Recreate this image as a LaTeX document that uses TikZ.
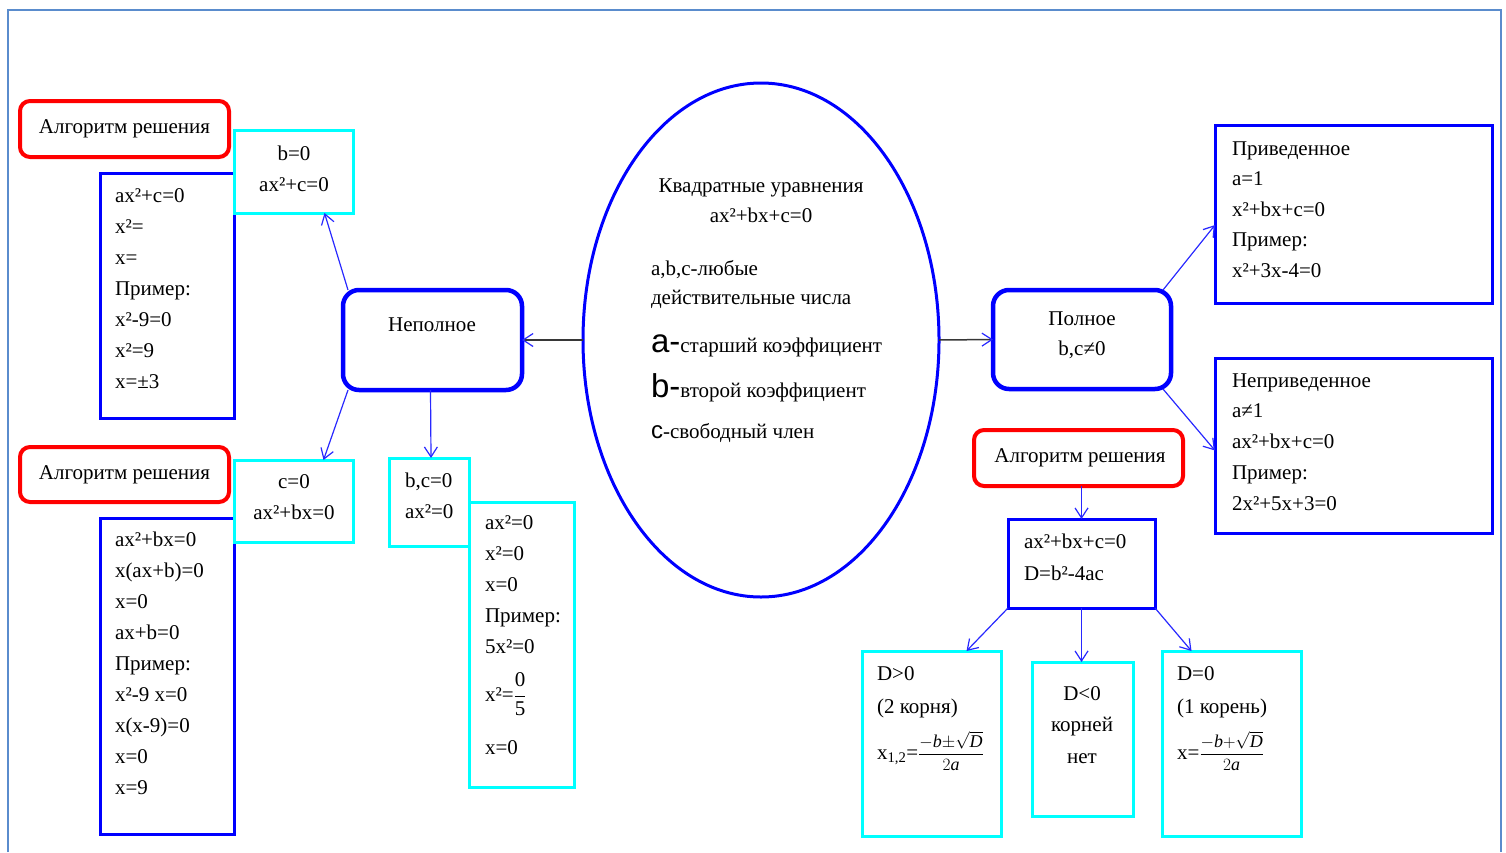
\documentclass[tikz,border=0pt]{standalone}
\usepackage{fontspec}
\setmainfont{Liberation Serif}
\newfontfamily\sansf{Liberation Sans}
\usetikzlibrary{arrows.meta,shapes.geometric}
\definecolor{frameblue}{RGB}{90,140,205}
\definecolor{pblue}{RGB}{0,0,255}
\definecolor{pcyan}{RGB}{0,255,255}
\definecolor{pred}{RGB}{255,0,0}
\definecolor{linegray}{RGB}{55,55,55}
\definecolor{arrowblue}{RGB}{40,40,255}
\begin{document}
\begin{tikzpicture}[x=1pt,y=-1pt,
  box/.style={draw, rectangle, inner sep=0pt, outer sep=0pt},
  bluebox/.style={box, draw=pblue, line width=3pt},
  cyanbox/.style={box, draw=pcyan, line width=3pt},
  redbox/.style={box, draw=pred, line width=4pt, rounded corners=10pt},
  roundbox/.style={box, draw=pblue, line width=4.5pt, rounded corners=16pt},
  txt/.style={inner sep=0pt, outer sep=0pt, font=\fontsize{21}{31}\selectfont, align=left},
  ctxt/.style={txt, align=center},
  conn/.style={draw=arrowblue, line width=1.2pt, -{Straight Barb[length=10pt,width=13pt,line width=1.2pt]}},
  sconn/.style={draw=linegray, line width=1.5pt, -{Straight Barb[length=10pt,width=13pt,line width=1.2pt,color=arrowblue]}},
]
\useasboundingbox (0,0) rectangle (1506,852);
% outer frame
\draw[frameblue, line width=2.5pt] (8,852) -- (8,10) -- (1501,10) -- (1501,852);

% ---------- left part ----------
\node[redbox, minimum width=209pt, minimum height=56pt] (alg1h) at (124.5,129) {};
\node[txt, anchor=base] (alg1ht) at (124.5,133) {Алгоритм решения};
\node[bluebox, minimum width=134pt, minimum height=245pt] (alg1) at (167,295.5) {};
\node[txt, anchor=north west] (alg1t) at (115,180.3) {\strut ax²+c=0\\x²=\\x=\\Пример:\\x²-9=0\\x²=9\\x=±3};

\node[cyanbox, minimum width=119pt, minimum height=83pt] (bz) at (293.5,171.5) {};
\node[ctxt, anchor=north] (bzt) at (294,138.3) {\strut b=0\\ax²+c=0};

\node[redbox, minimum width=209pt, minimum height=55pt] (alg2h) at (124.5,474.5) {};
\node[txt, anchor=base] (alg2ht) at (124.5,479) {Алгоритм решения};
\node[bluebox, minimum width=134pt, minimum height=316pt] (alg2) at (167,676) {};
\node[txt, anchor=north west] (alg2t) at (115,524.3) {\strut ax²+bx=0\\x(ax+b)=0\\x=0\\ax+b=0\\Пример:\\x²-9 x=0\\x(x-9)=0\\x=0\\x=9};

\node[cyanbox, minimum width=119pt, minimum height=82pt] (cz) at (293.5,501) {};
\node[ctxt, anchor=north] (czt) at (294,466.3) {\strut c=0\\ax²+bx=0};

\node[cyanbox, minimum width=80pt, minimum height=88pt] (bcz) at (429,502) {};
\node[txt, anchor=north west] (bczt) at (405,465.3) {\strut b,c=0\\ax²=0};

\node[cyanbox, minimum width=105pt, minimum height=285pt] (az) at (521.5,644.5) {};
\node[txt, anchor=north west] (azt) at (485,507.3) {\strut ax²=0\\x²=0\\x=0\\Пример:\\5x²=0};
\node[txt, anchor=base west] (azf) at (485,701) {x²=$\displaystyle\frac{\hbox{0}}{\hbox{5}}$};
\node[txt, anchor=base west] (azl) at (485,754) {x=0};

\node[roundbox, minimum width=179pt, minimum height=100pt] (nep) at (432.5,340) {};
\node[txt, anchor=base] (nept) at (432,331) {Неполное};

% ---------- centre ----------
\node[ellipse, draw=pblue, line width=3pt, minimum width=356pt, minimum height=514pt, inner sep=0pt, outer sep=0pt] (ell) at (761,340) {};
\node[ctxt, font=\fontsize{21}{30}\selectfont, anchor=north] (ellt) at (761,171) {\strut Квадратные уравнения\\ax²+bx+c=0};
\node[txt, font=\fontsize{21}{29}\selectfont, anchor=north west] (elll) at (651,254.7) {\strut a,b,c-любые\\действительные числа};
\node[txt, anchor=base west] (ella) at (651,352) {{\sansf\fontsize{33}{33}\selectfont a-}старший коэффициент};
\node[txt, anchor=base west] (ellb) at (651,397) {{\sansf\fontsize{33}{33}\selectfont b-}второй коэффициент};
\node[txt, anchor=base west] (ellc) at (651,438) {{\sansf\fontsize{24}{24}\selectfont c}-свободный член};

% ---------- right part ----------
\node[roundbox, minimum width=178pt, minimum height=99pt] (pol) at (1082,339.5) {};
\node[ctxt, font=\fontsize{21}{30}\selectfont, anchor=north] (polt) at (1082,304) {\strut Полное\\b,c≠0};

\node[bluebox, minimum width=277pt, minimum height=178pt] (priv) at (1353.5,214) {};
\node[txt, font=\fontsize{21}{30.5}\selectfont, anchor=north west] (privt) at (1232,133.65) {\strut Приведенное\\a=1\\x²+bx+c=0\\Пример:\\x²+3x-4=0};

\node[bluebox, minimum width=277pt, minimum height=175pt] (nepriv) at (1353.5,445.5) {};
\node[txt, font=\fontsize{21}{30.75}\selectfont, anchor=north west] (neprivt) at (1232,365.5) {\strut Неприведенное\\a≠1\\ax²+bx+c=0\\Пример:\\2x²+5x+3=0};

\node[redbox, minimum width=209pt, minimum height=56pt] (alg3h) at (1078.5,458) {};
\node[txt, anchor=base] (alg3ht) at (1080,462) {Алгоритм решения};

\node[bluebox, minimum width=147pt, minimum height=89pt] (dbox) at (1081.5,563.5) {};
\node[txt, font=\fontsize{21}{32}\selectfont, anchor=north west] (dboxt) at (1024,525.6) {\strut ax²+bx+c=0\\D=b²-4ac};

\node[cyanbox, minimum width=139pt, minimum height=185pt] (dpos) at (931.5,743.5) {};
\node[txt, font=\fontsize{21}{33}\selectfont, anchor=north west] (dpost) at (877,656.9) {\strut D>0\\(2 корня)};
\node[txt, anchor=base west] (dposf) at (877,759) {x\textsubscript{1,2}={\fontsize{18}{18}\selectfont$\displaystyle\frac{-\hbox{\itshape b}{\pm}\sqrt{\hbox{\itshape D}}}{2\hbox{\itshape a}}$}};

\node[cyanbox, minimum width=101pt, minimum height=154pt] (dneg) at (1082.5,739) {};
\node[ctxt, font=\fontsize{21}{31.5}\selectfont, anchor=north] (dnegt) at (1082,678) {\strut D<0\\корней\\нет};

\node[cyanbox, minimum width=139pt, minimum height=185pt] (dzero) at (1231.5,743.5) {};
\node[txt, font=\fontsize{21}{33}\selectfont, anchor=north west] (dzerot) at (1177,656.9) {\strut D=0\\(1 корень)};
\node[txt, anchor=base west] (dzerof) at (1177,759) {x={\fontsize{18}{18}\selectfont$\displaystyle\frac{-\hbox{\itshape b}{+}\sqrt{\hbox{\itshape D}}}{2\hbox{\itshape a}}$}};

% ---------- connectors ----------
\draw[sconn] (ell.west) -- (nep.east);
\draw[sconn] (ell.east) -- (pol.west);
\draw[conn] ([xshift=5pt]nep.north west) -- ([xshift=31pt]bz.south);
\draw[conn] ([xshift=5pt]nep.south west) -- ([xshift=30pt]cz.north);
\draw[conn] ([xshift=-2pt]nep.south) -- ([xshift=2pt]bcz.north);
\draw[conn] ([xshift=-8pt]pol.north east) -- ([yshift=-11pt]priv.west);
\draw[conn] ([xshift=-8pt]pol.south east) -- ([yshift=-5pt]nepriv.west);
\draw[conn] ([xshift=3pt]alg3h.south) -- (dbox.north);
\draw[conn] (dbox.south west) -- ([xshift=35pt]dpos.north);
\draw[conn] (dbox.south) -- ([xshift=-1pt]dneg.north);
\draw[conn] (dbox.south east) -- ([xshift=-40pt]dzero.north);
\end{tikzpicture}
\end{document}
